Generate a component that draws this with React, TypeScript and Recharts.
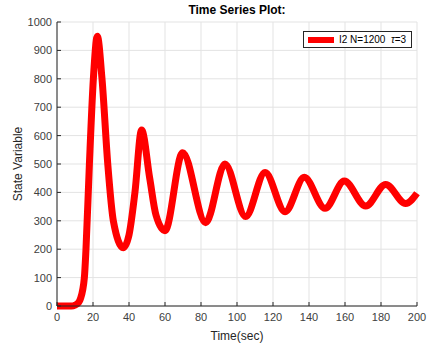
import React from 'react';
import { LineChart, Line, XAxis, YAxis, CartesianGrid } from 'recharts';

const times = [0, 8, 10, 12, 13, 15.2, 16.1, 18, 20.2, 22.4, 25, 28.2, 31.3, 36.8, 40, 43.3, 47, 51.5, 55, 60, 69.8, 82.6, 93.3, 104.8, 115.6, 126.7, 137.4, 148.9, 159.6, 171.5, 182.6, 193.7, 200];
const values = [0, 0, 3, 12, 25, 100, 200, 500, 800, 950, 800, 500, 300, 205, 250, 400, 620, 450, 320, 265, 540, 293, 500, 315, 470, 332, 453, 344, 440, 352, 428, 361, 397];
const xTicks = [0, 20, 40, 60, 80, 100, 120, 140, 160, 180, 200];
const yTicks = [0, 100, 200, 300, 400, 500, 600, 700, 800, 900, 1000];
const seriesName = 'I2 N=1200';
const seriesParam = 'τ=3';

const data = times.map((t, i) => ({ t, v: values[i] }));

const axisColor = '#262626';
const font = 'Liberation Sans, Arial, sans-serif';

export default function App() {
  return (
    <div style={{ position: 'absolute', left: 0, top: 0, width: 428, height: 344, background: '#fff', fontFamily: font }}>
      <div style={{ position: 'absolute', left: 0, top: 3, width: 474, textAlign: 'center', fontSize: 12, fontWeight: 'bold', color: '#000' }}>Time Series Plot:</div>
      <LineChart width={428} height={344} data={data} margin={{ top: 22, right: 11, bottom: 0, left: 0 }}>
        <CartesianGrid stroke="#e3e3e3" horizontalValues={yTicks} verticalValues={xTicks} />
        <XAxis dataKey="t" type="number" domain={[0, 200]} ticks={xTicks} height={38} tickSize={-4} tickMargin={11}
          stroke={axisColor} tick={{ fill: '#404040', fontSize: 11, fontFamily: font }}
          label={{ value: 'Time(sec)', position: 'insideBottom', offset: 4, fill: '#262626', fontSize: 12, fontFamily: font }} />
        <XAxis xAxisId="top" dataKey="t" type="number" orientation="top" domain={[0, 200]} ticks={xTicks} height={0} tickSize={-4} tick={false} stroke={axisColor} />
        <YAxis type="number" domain={[0, 1000]} ticks={yTicks} width={57} tickSize={-4} tickMargin={9}
          stroke={axisColor} tick={{ fill: '#404040', fontSize: 11, fontFamily: font }}
          label={{ value: 'State Variable', angle: -90, position: 'insideLeft', offset: 18, fill: '#262626', fontSize: 12, fontFamily: font, style: { textAnchor: 'middle' } }} />
        <YAxis yAxisId="right" type="number" orientation="right" domain={[0, 1000]} ticks={yTicks} width={0} tickSize={-4} tick={false} stroke={axisColor} />
        <Line type="monotone" dataKey="v" name={seriesName} stroke="#ff0000" strokeWidth={7} dot={false} isAnimationActive={false} />
      </LineChart>
      <div style={{ position: 'absolute', left: 303, top: 31, height: 17, boxSizing: 'border-box', border: '1px solid #262626', background: '#fff', padding: '0 5px 0 4px', display: 'flex', alignItems: 'center', fontSize: 10, color: '#000', whiteSpace: 'pre' }}>
        <span style={{ display: 'inline-block', width: 26, height: 6, background: '#ff0000', marginRight: 5 }} />
        <span>{seriesName}  <i>{seriesParam.slice(0, 1)}</i>{seriesParam.slice(1)}</span>
      </div>
    </div>
  );
}
